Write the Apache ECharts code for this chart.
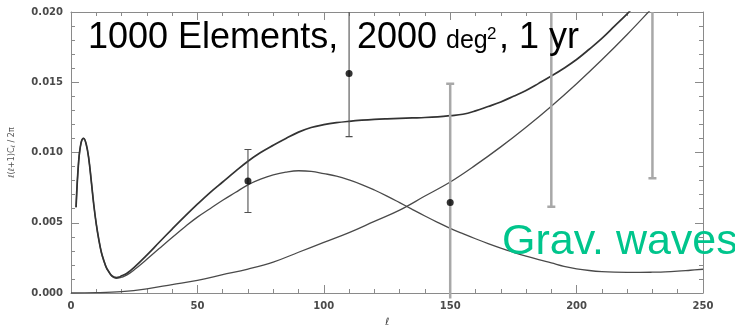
<!DOCTYPE html>
<html>
<head>
<meta charset="utf-8">
<script src="https://cdn.jsdelivr.net/npm/echarts@6/dist/echarts.min.js"></script>
<style>
html,body{margin:0;padding:0;background:#fff;}
#wrap{position:relative;width:735px;height:332px;background:#fff;}
#chart,#bars,#notes{position:absolute;left:0;top:0;width:735px;height:332px;}
#bars,#notes{pointer-events:none;}
</style>
</head>
<body>
<div id="wrap"><div id="chart"></div><div id="bars"></div><div id="notes"></div></div>
<script>
// multipoles for scalar / total curves
const ell = [2,3,4,5,6,7,8,9,10,11,12,13,14,15,16,17,18,19,20,22,25,30,35,40,45,50,55,60,65,70,75,80,85,90,95,100,105,110,115,120,125,130,135,140,145,150,155,160,165,170,175,180,185,190,195,200,205,210,215,220,225,230,235,240,245,250];
// scalar contribution
const scalar = [0.0061,0.0093,0.0107,0.0110,0.0106,0.0096,0.0080,0.0063,0.0049,0.0038,0.0029,0.0023,0.0018,0.0015,0.00123,0.00110,0.00105,0.00107,0.00112,0.00127,0.00165,
  0.00240,0.00318,0.00395,0.00470,0.00540,0.00600,0.00660,0.00715,0.00770,0.00810,0.00840,0.00860,0.00870,0.00866,0.00850,0.00832,0.00805,0.00772,0.00733,0.00690,0.00643,0.00595,0.00548,0.00503,0.00460,0.00422,0.00386,0.00352,0.00320,0.00290,0.00262,0.00237,0.00214,0.00190,0.00172,0.00160,0.00152,0.00148,0.00147,0.00147,0.00148,0.00150,0.00155,0.00162,0.00169];
// total = scalar + tensor
const total = [0.0061,0.0093,0.0107,0.0110,0.0106,0.0096,0.0080,0.0063,0.0049,0.0038,0.0029,0.0023,0.0018,0.0015,0.00126,0.00114,0.00110,0.00113,0.00122,0.00139,0.00183,
  0.00270,0.00363,0.00455,0.00545,0.00632,0.00715,0.00790,0.00865,0.00938,0.01000,0.01052,0.01100,0.01145,0.01178,0.01198,0.01212,0.01222,0.01230,0.01236,0.01240,0.01243,0.01246,0.01249,0.01254,0.01262,0.01272,0.01296,0.01327,0.01360,0.01400,0.01442,0.01492,0.01544,0.01600,0.01662,0.01735,0.01812,0.01899,0.01987,0.02082,0.02178,0.02275,0.02375,0.02482,0.02589];
// tensor (gravitational waves) contribution
const tensorEll = [0,10,20,30,40,50,60,70,80,90,100,110,120,130,140,150,160,170,180,190,200,210,220,230,240,250];
const tensor = [0,0.00002,0.0001,0.0003,0.0006,0.0009,0.0013,0.0017,0.0022,0.0029,0.0036,0.0043,0.0051,0.0059,0.0069,0.0079,0.0091,0.0104,0.0118,0.0133,0.0149,0.0166,0.0184,0.0203,0.0222,0.0242];
// band powers with error bars
const ptEll = [70,110,150,190,230];
const ptVal = [0.0082,0.0157,0.0067,null,null];
const errLow = [0.0060,0.0113,-0.0016,0.0064,0.0084];
const errHigh = [0.0104,0.0201,0.0150,0.0250,0.0250];
// axis ticks
const xTicks = {min:0, max:250, step:50};
const yTicks = {min:0, max:0.020, step:0.005};
// annotation texts
const titleParts = ['1000 Elements,', '2000', 'deg', '2', ', 1 yr'];
const gwLabel = 'Grav. waves';

const zip = (a,b) => a.map((v,i)=>[v,b[i]]);
const frameColor = '#8a8a8a';
const labelStyle = {color:'#4a4a4a', fontSize:10, fontWeight:'bold', fontFamily:'DejaVu Sans'};
const gridBox = {left:71, right:32, top:12, bottom:33.5, containLabel:false};

function xAx(pos){
  return {type:'value', position:pos, min:xTicks.min, max:xTicks.max, interval:xTicks.step,
    axisLine:{show:true, onZero:false, lineStyle:{color:frameColor, width:1}},
    axisTick:{show:true, inside:true, length:8, lineStyle:{color:frameColor}},
    minorTick:{show:true, splitNumber:5, length:4, lineStyle:{color:frameColor}},
    splitLine:{show:false},
    axisLabel: pos==='bottom' ? Object.assign({margin:8}, labelStyle) : {show:false},
    name: pos==='bottom' ? 'ℓ' : '', nameLocation:'middle', nameGap:24,
    nameTextStyle:{color:'#444', fontSize:10, fontFamily:'DejaVu Sans', fontStyle:'italic'}
  };
}
function yAx(pos){
  return {type:'value', position:pos, min:yTicks.min, max:yTicks.max, interval:yTicks.step,
    axisLine:{show:true, onZero:false, lineStyle:{color:frameColor, width:1}},
    axisTick:{show:true, inside:true, length:8, lineStyle:{color:frameColor}},
    minorTick:{show:true, splitNumber:5, length:4, lineStyle:{color:frameColor}},
    splitLine:{show:false},
    axisLabel: pos==='left' ? Object.assign({margin:8, formatter:v=>v.toFixed(3)}, labelStyle) : {show:false},
    name: pos==='left' ? '{a|ℓ(ℓ+1)C}{s|ℓ}{a| / 2π}' : '', nameLocation:'middle', nameGap:55,
    nameTextStyle:{color:'#555', rich:{a:{fontSize:8, fontFamily:'DejaVu Sans', color:'#555'}, s:{fontSize:6, fontFamily:'DejaVu Sans', color:'#555', verticalAlign:'bottom'}}}
  };
}
function errorBar(params, api){
  const x = api.value(0), lo = api.value(1), hi = api.value(2);
  const pHi = api.coord([x, hi]), pLo = api.coord([x, lo]);
  const faint = params.dataIndex >= 2;
  const style = {stroke: faint ? '#a8a8a8' : '#505050', lineWidth: faint ? 2.5 : 1.1};
  const w = faint ? 4 : 3.5;
  return {type:'group', children:[
    {type:'line', shape:{x1:pHi[0], y1:pHi[1], x2:pLo[0], y2:pLo[1]}, style:style},
    {type:'line', shape:{x1:pHi[0]-w, y1:pHi[1], x2:pHi[0]+w, y2:pHi[1]}, style:style},
    {type:'line', shape:{x1:pLo[0]-w, y1:pLo[1], x2:pLo[0]+w, y2:pLo[1]}, style:style}
  ]};
}

// main chart: frame, ticks and model curves
const chart = echarts.init(document.getElementById('chart'), null, {renderer:'canvas'});
chart.setOption({
  animation:false,
  backgroundColor:'#fff',
  grid:gridBox,
  xAxis:[xAx('bottom'), xAx('top')],
  yAxis:[yAx('left'), yAx('right')],
  series:[
    {type:'line', data:zip(tensorEll,tensor), showSymbol:false, smooth:0.4, clip:true, lineStyle:{color:'#4a4a4a', width:1.3}},
    {type:'line', data:zip(ell,scalar), showSymbol:false, smooth:0.4, clip:true, lineStyle:{color:'#4a4a4a', width:1.3}},
    {type:'line', data:zip(ell,total), showSymbol:false, smooth:0.4, clip:true, lineStyle:{color:'#333', width:1.7}}
  ]
});

// band powers and error bars on the same scales (axes hidden)
const bars = echarts.init(document.getElementById('bars'), null, {renderer:'canvas'});
bars.setOption({
  animation:false,
  grid:gridBox,
  xAxis:{type:'value', show:false, min:xTicks.min, max:xTicks.max},
  yAxis:{type:'value', show:false, min:yTicks.min, max:yTicks.max},
  series:[
    {type:'custom', clip:true, data: ptEll.map((x,i)=>[x, errLow[i], errHigh[i]]),
      encode:{x:0, y:[1,2]}, renderItem:errorBar},
    {type:'scatter', data:zip(ptEll,ptVal).filter(d=>d[1]!==null), symbolSize:7,
      itemStyle:{color:'#000'}}
  ]
});

// annotations
const txt = (s, x, y, font, fill) => ({type:'text', x:x, y:y,
  style:{text:s, fill:fill||'#000', font:font, verticalAlign:'middle', align:'left'}});
const notes = echarts.init(document.getElementById('notes'), null, {renderer:'canvas'});
notes.setOption({
  animation:false,
  graphic:[
    txt(titleParts[0], 88, 38, '36px "Liberation Sans"'),
    txt(titleParts[1], 357, 38, '36px "Liberation Sans"'),
    txt(titleParts[2], 446, 41.5, '25px "Liberation Sans"'),
    txt(titleParts[3], 487, 34, '17px "Liberation Sans"'),
    txt(titleParts[4], 499, 38, '36px "Liberation Sans"'),
    txt(gwLabel, 502, 242, '43px "Liberation Sans"', '#00c58c')
  ]
});
</script>
</body>
</html>
